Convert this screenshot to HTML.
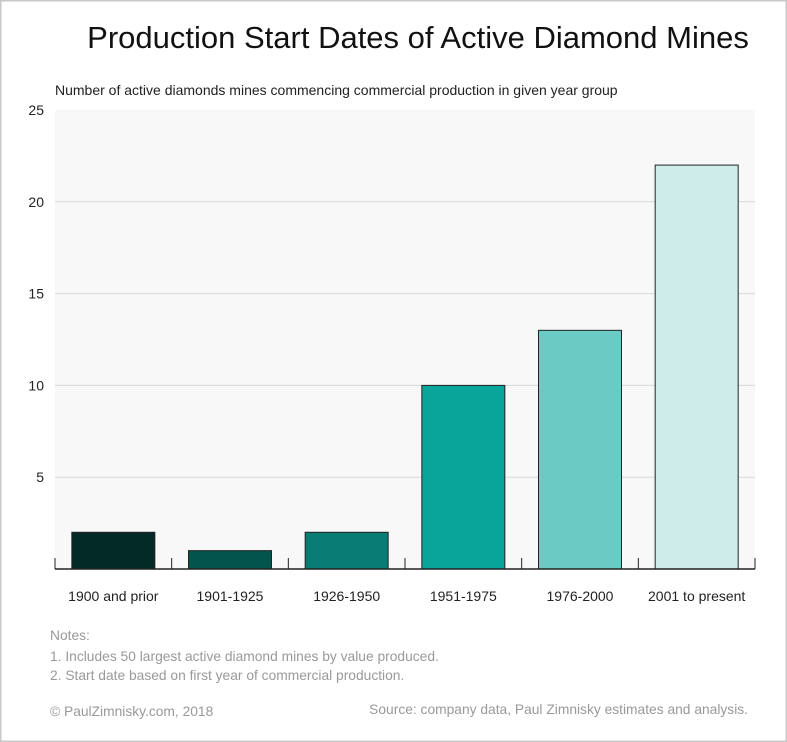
<!DOCTYPE html>
<html><head><meta charset="utf-8"><style>
body{margin:0;background:#fff;}
svg{display:block;font-family:"Liberation Sans",sans-serif;}
</style></head><body>
<svg width="787" height="742" viewBox="0 0 787 742">
<rect x="0.5" y="0.5" width="786" height="741" fill="#fff" stroke="#c8c8c8" stroke-width="2"/>
<text x="418" y="48" text-anchor="middle" font-size="31" fill="#111">Production Start Dates of Active Diamond Mines</text>
<text x="55" y="95" font-size="14" fill="#222">Number of active diamonds mines commencing commercial production in given year group</text>
<rect x="55" y="110" width="700" height="459" fill="#f8f8f8"/>
<g id="grid"></g><g id="bars"></g><g id="axes"></g>
<text x="50" y="640" font-size="13.8" fill="#999">Notes:</text>
<text x="50" y="661" font-size="13.8" fill="#999">1. Includes 50 largest active diamond mines by value produced.</text>
<text x="50" y="680" font-size="13.8" fill="#999">2. Start date based on first year of commercial production.</text>
<text x="50" y="716" font-size="13.8" fill="#999">© PaulZimnisky.com, 2018</text>
<text x="748" y="714" text-anchor="end" font-size="13.8" fill="#999">Source: company data, Paul Zimnisky estimates and analysis.</text>
</svg>
<script>
const categories=["1900 and prior","1901-1925","1926-1950","1951-1975","1976-2000","2001 to present"];
const values=[2,1,2,10,13,22];
const colors=["#032a27","#04544e","#077d75","#09a49a","#6acbc4","#cdecea"];
const yTicks=[5,10,15,20,25];
const NS="http://www.w3.org/2000/svg";
const x0=55,x1=755,y0=569,y1=110,yMax=25;
const bw=(x1-x0)/categories.length;
const y=v=>y0-(v/yMax)*(y0-y1);
function mk(t,a,p){const e=document.createElementNS(NS,t);for(const k in a)e.setAttribute(k,a[k]);p.appendChild(e);return e;}
const grid=document.getElementById('grid'),bars=document.getElementById('bars'),axes=document.getElementById('axes');
yTicks.forEach(t=>{
 if(t<yMax){const l=mk('line',{x1:x0,x2:x1,y1:y(t),y2:y(t),stroke:'#d8d8d8','stroke-width':1},grid);
 
 }
 const tx=mk('text',{x:44,y:y(t)+5,'text-anchor':'end','font-size':14,fill:'#222'},axes);
 tx.textContent=t;
 
 
});
categories.forEach((c,i)=>{
 const cx=x0+bw*(i+0.5);
 const r=mk('rect',{x:cx-41.5,y:y(values[i]),width:83,height:y0-y(values[i]),fill:colors[i],stroke:'#222','stroke-width':1},bars);
 
 
 const tx=mk('text',{x:cx,y:601,'text-anchor':'middle','font-size':14,fill:'#222'},axes);
 tx.textContent=c;
 
 
});
for(let i=0;i<=categories.length;i++){
 const t=mk('line',{x1:x0+bw*i,x2:x0+bw*i,y1:y0-11,y2:y0,stroke:'#222','stroke-width':1},axes);
 
 
}
const ax=mk('line',{x1:x0,x2:x1,y1:y0,y2:y0,stroke:'#222','stroke-width':1.5},axes);


</script>
</body></html>
